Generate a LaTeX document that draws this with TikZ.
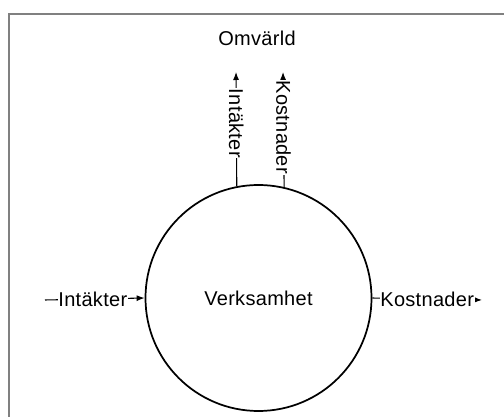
\documentclass[tikz,border=0pt]{standalone}
\usepackage{fontspec}
\setmainfont[LetterSpace=1.5]{Liberation Sans}
\usetikzlibrary{arrows.meta,positioning}

\begin{document}
\begin{tikzpicture}[
		x=0.75pt, y=-0.75pt,
		every node/.style={font=\fontsize{15pt}{17pt}\selectfont},
		unit/.style={draw, circle, line width=1.3pt, minimum size=169.5pt, inner sep=0pt},
		flow/.style={-{Latex[length=6pt,width=4.5pt]}, line width=0.8pt},
		lbl/.style={fill=white, inner sep=0.5pt}
	]
		\useasboundingbox (0,0) rectangle (504,417);
		\draw[gray, line width=1.1pt] (9,14) rectangle (520,430);

		\node[unit] (verk) at (258.5,298) {Verksamhet};
		\node (omv) at (257,38) {Omvärld};

		\coordinate (in) at (45,300);
		\coordinate (ut) at (482,300);
		\coordinate (upin) at (236,72);
		\coordinate (upkost) at (283,72);

		\draw[flow] (in) -- node[lbl, pos=0.48] {Intäkter} (verk.west);
		\draw[flow] (verk.east) -- node[lbl, pos=0.5] {Kostnader} (ut);
		\draw[flow] (verk.101.5) -- node[lbl, rotate=-90, pos=0.55] {Intäkter} (upin);
		\draw[flow] (verk.77.5) -- node[lbl, rotate=-90, pos=0.52] {Kostnader} (upkost);
	\end{tikzpicture}
\end{document}
